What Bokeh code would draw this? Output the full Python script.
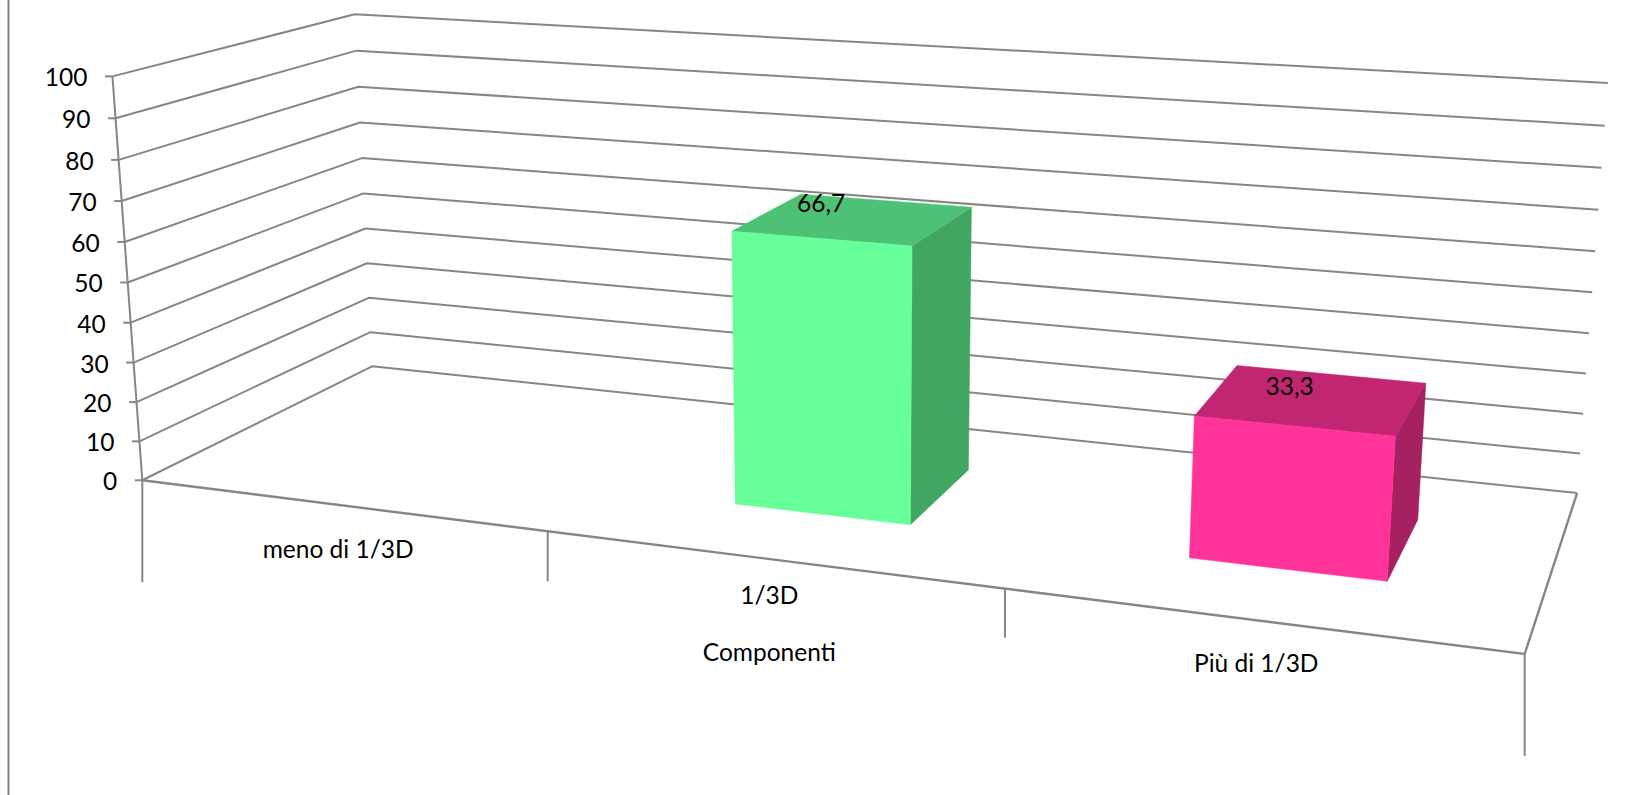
import numpy as np
from bokeh.plotting import figure
from bokeh.embed import file_html
from bokeh.resources import INLINE
from bokeh.core.properties import value

categories = ["meno di 1/3D", "1/3D", "Più di 1/3D"]
series_values = [0.0, 66.7, 33.3]
value_labels = ["", "66,7", "33,3"]
y_ticks = [0, 10, 20, 30, 40, 50, 60, 70, 80, 90, 100]
x_title = "Componenti"
front_colors = ["#66FF99", "#66FF99", "#FF3399"]
top_colors = ["#4DC276", "#4DC276", "#C12673"]
side_colors = ["#40A662", "#40A662", "#A6215F"]

# perspective camera of the 3D chart: (category, depth, value) -> page pixels
CAMERA = np.array([[374.378688, 287.225366, -0.343569, 141.800346],
                   [20.862252, -57.450494, -4.069191, 479.766065],
                   [-0.0567, 0.154585, -0.000402, 1.0]])
LINE = "#868686"
FONT = value("Lato")
SIZE = "24.5px"
BAR_FRAC = (0.3, 0.7)
LW = 2


def proj(u, d, v):
    q = CAMERA @ np.array([u, d, v, 1.0])
    return q[0] / q[2], q[1] / q[2]


def poly(points):
    xy = [proj(*pt) for pt in points]
    return [a for a, _ in xy], [b for _, b in xy]


W, H = 1633, 795
PAD = 8
p = figure(width=W + PAD, height=H + PAD, x_range=(-PAD, W), y_range=(H, -PAD), output_backend="svg",
           toolbar_location=None, min_border=0, margin=(-8, -8, -8, -8),
           background_fill_color="white", border_fill_color="white")
p.axis.visible = False
p.grid.visible = False
p.outline_line_color = None

# page border line on the left
p.line([8, 8], [-PAD, H], line_color="#808080", line_width=2)

n = len(categories)
# walls: one gridline per value tick
for v in y_ticks:
    xs, ys = poly([(0, 0, v), (0, 1, v), (n, 1, v)])
    p.line(xs, ys, line_color=LINE, line_width=LW)
    x0, y0 = proj(0, 0, v)
    p.line([x0 - 7.5, x0], [y0, y0], line_color=LINE, line_width=LW)
    p.text([x0 - 25], [y0 + 1], text=[str(v)], text_align="right", text_baseline="middle",
           text_font=FONT, text_font_size=SIZE, text_color="black")

# value axis and floor edges
xs, ys = poly([(0, 0, 0), (0, 0, y_ticks[-1])])
p.line(xs, ys, line_color=LINE, line_width=LW)
xs, ys = poly([(0, 0, 0), (n, 0, 0), (n, 1, 0)])
p.line(xs, ys, line_color=LINE, line_width=2.4, line_join="miter")

# category separators below the floor
for i, drop in enumerate([102, 50, 49, 102]):
    x0, y0 = proj(i, 0, 0)
    p.line([x0, x0], [y0, y0 + drop], line_color=LINE, line_width=LW)

# bars
d0, d1 = BAR_FRAC
for i, val in enumerate(series_values):
    if val <= 0:
        continue
    u0, u1 = i + 0.3, i + 0.7
    xs, ys = poly([(u1, d0, 0), (u1, d1, 0), (u1, d1, val), (u1, d0, val)])
    p.patch(xs, ys, fill_color=side_colors[i], line_color=side_colors[i], line_width=0.5)
    xs, ys = poly([(u0, d0, val), (u1, d0, val), (u1, d1, val), (u0, d1, val)])
    p.patch(xs, ys, fill_color=top_colors[i], line_color=top_colors[i], line_width=0.5)
    xs, ys = poly([(u0, d0, 0), (u1, d0, 0), (u1, d0, val), (u0, d0, val)])
    p.patch(xs, ys, fill_color=front_colors[i], line_color=front_colors[i], line_width=0.5)

# value labels, from the centre of each bar's top
for i, (val, lab, off) in enumerate(zip(series_values, value_labels, [(0, 0), (-33, -16), (-23, -13)])):
    if lab:
        x0, y0 = proj(i + 0.5, 0.5, val)
        p.text([x0 + off[0]], [y0 + off[1]], text=[lab], text_align="center", text_baseline="middle",
               text_font=FONT, text_font_size=SIZE, text_color="black")

# category labels and axis title, hung below the front floor edge
for i, (cat, off) in enumerate(zip(categories, [(-1, 44), (0, 35), (0, 42)])):
    x0, y0 = proj(i + 0.5, 0, 0)
    p.text([x0 + off[0]], [y0 + off[1]], text=[cat], text_align="center", text_baseline="middle",
           text_font=FONT, text_font_size=SIZE, text_color="black")
x0, y0 = proj(1.5, 0, 0)
p.text([x0], [y0 + 92], text=[x_title], text_align="center", text_baseline="middle",
       text_font=FONT, text_font_size=SIZE, text_color="black")

open("out.html", "w").write(file_html(p, INLINE))
